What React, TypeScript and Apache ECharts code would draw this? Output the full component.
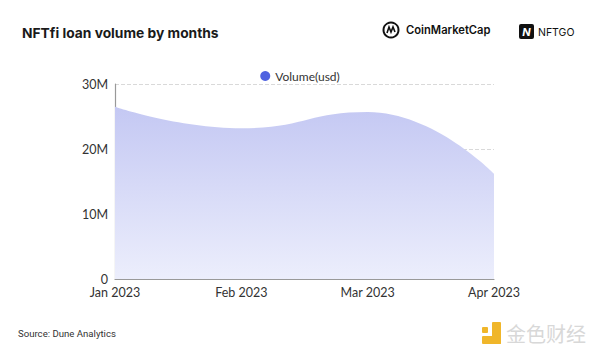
import React, { useEffect, useRef } from "react";
import * as echarts from "echarts";

const categories = ["Jan 2023", "Feb 2023", "Mar 2023", "Apr 2023"];
const volumeUsd = [26500000, 23200000, 25700000, 16200000];
const seriesName = "Volume(usd)";
const titleText = "NFTfi loan volume by months";
const sourceText = "Source: Dune Analytics";

export default function App() {
  const ref = useRef<HTMLDivElement>(null);
  useEffect(() => {
    if (!ref.current) return;
    const chart = echarts.init(ref.current, null, { renderer: "svg" });
    chart.setOption({
      animation: false,
      backgroundColor: "#ffffff",
      textStyle: { fontFamily: "Lato" },
      title: {
        text: titleText,
        left: 17,
        top: 21,
        textStyle: { fontFamily: "Inter", fontWeight: "bold", fontSize: 13.8, color: "#1a1a1a" },
      },
      legend: {
        top: 65,
        left: "center",
        icon: "circle",
        itemWidth: 10,
        itemHeight: 10,
        itemGap: 6,
        textStyle: { fontFamily: "Lato", fontSize: 12, color: "#333" },
        data: [seriesName],
      },
      grid: { left: 115, right: 106, top: 84, bottom: 83 },
      xAxis: {
        type: "category",
        data: categories,
        boundaryGap: false,
        axisLine: { show: true, lineStyle: { color: "#999", width: 1.2 } },
        axisTick: { show: false },
        axisLabel: { color: "#333", fontSize: 12.5, fontFamily: "Lato", margin: 7 },
      },
      yAxis: {
        type: "value",
        min: 0,
        max: 30000000,
        interval: 10000000,
        axisLine: { show: true, lineStyle: { color: "#999", width: 1.2 } },
        axisTick: { show: false },
        axisLabel: {
          color: "#333",
          fontSize: 12.5,
          fontFamily: "Lato",
          margin: 7,
          formatter: (v: number) => (v === 0 ? "0" : v / 1000000 + "M"),
        },
        splitLine: { show: true, lineStyle: { type: "dashed", color: "#d9d9d9" } },
      },
      series: [
        {
          name: seriesName,
          type: "line",
          data: volumeUsd,
          smooth: true,
          symbol: "none",
          itemStyle: { color: "#5063e0" },
          lineStyle: { width: 0, color: "#c3c8f2" },
          areaStyle: {
            opacity: 1,
            color: new echarts.graphic.LinearGradient(0, 0, 0, 1, [
              { offset: 0, color: "#c4c8f3" },
              { offset: 1, color: "#eceefc" },
            ]),
          },
        },
      ],
      graphic: [
        // CoinMarketCap logo
        { type: "circle", shape: { cx: 391, cy: 30, r: 7.5 }, style: { fill: "none", stroke: "#111", lineWidth: 2 } },
        {
          type: "polyline",
          shape: { points: [[387, 33], [389, 27], [391, 32], [393, 27], [395, 32]] },
          style: { fill: "none", stroke: "#111", lineWidth: 1.6 },
        },
        {
          type: "text",
          x: 406,
          y: 30,
          style: { text: "CoinMarketCap", fontFamily: "Inter", fontWeight: 600, fontSize: 11.2, fill: "#111", verticalAlign: "middle" },
        },
        // NFTGO logo
        { type: "rect", shape: { x: 519, y: 24, width: 15, height: 15, r: 2 }, style: { fill: "#111" } },
        {
          type: "text",
          x: 526.5,
          y: 31.5,
          style: { text: "N", fontFamily: "Inter", fontWeight: "bold", fontStyle: "italic", fontSize: 11, fill: "#fff", align: "center", verticalAlign: "middle" },
        },
        {
          type: "text",
          x: 538,
          y: 32,
          style: { text: "NFTGO", fontFamily: "Inter", fontSize: 10.5, fill: "#111", verticalAlign: "middle" },
        },
        // Source
        {
          type: "text",
          x: 18,
          y: 333,
          style: { text: sourceText, fontFamily: "Roboto", fontSize: 9.6, fill: "#333", verticalAlign: "middle" },
        },
        // Watermark
        { type: "rect", shape: { x: 492, y: 322, width: 9, height: 22, r: 1 }, style: { fill: "#f0b62a" } },
        { type: "rect", shape: { x: 482, y: 336, width: 19, height: 8, r: 1 }, style: { fill: "#f0b62a" } },
        { type: "rect", shape: { x: 482, y: 327, width: 6, height: 6, r: 1 }, style: { fill: "#f0b62a" } },
        {
          type: "text",
          x: 506,
          y: 333,
          style: { text: "金色财经", fontFamily: "Noto Sans CJK SC", fontSize: 20, fill: "#d8d8d8", verticalAlign: "middle" },
        },
      ],
    });
    return () => chart.dispose();
  }, []);
  return <div ref={ref} style={{ position: "absolute", left: 0, top: 0, width: 600, height: 362 }} />;
}
